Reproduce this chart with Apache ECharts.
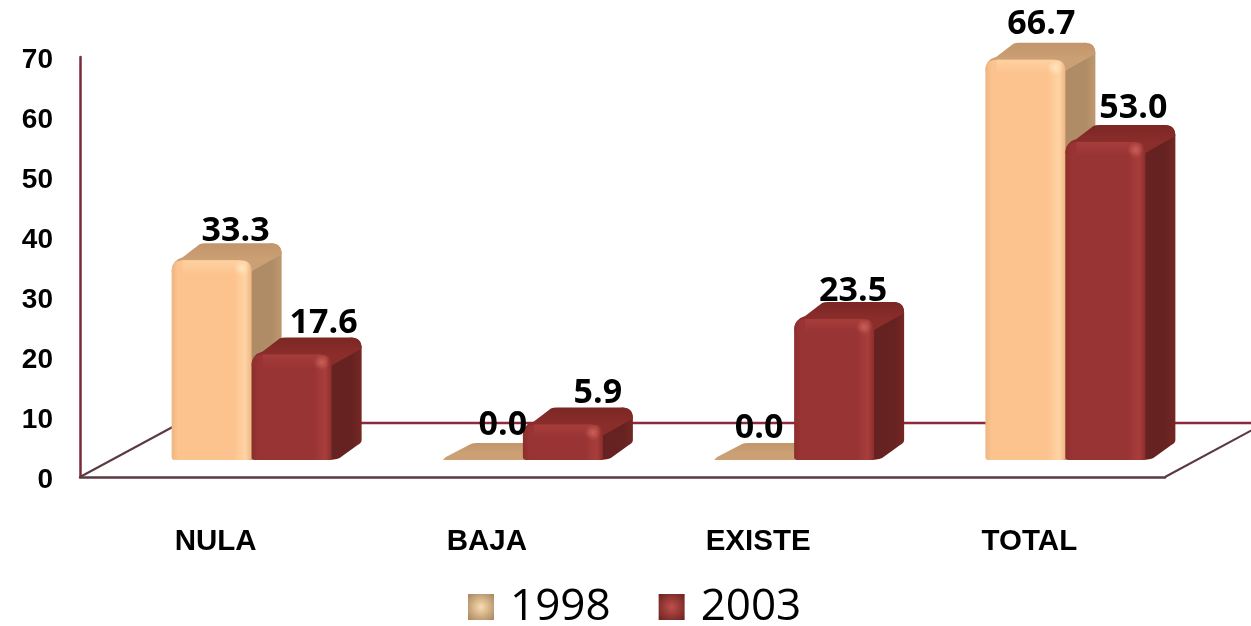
<!DOCTYPE html>
<html>
<head>
<meta charset="utf-8">
<style>html,body{margin:0;padding:0;background:#fff}#c{width:1251px;height:626px}</style>
<script src="https://cdn.jsdelivr.net/npm/echarts@6/dist/echarts.min.js"></script>
</head>
<body>
<div id="c"></div>
<script>
const categories = ['NULA', 'BAJA', 'EXISTE', 'TOTAL'];
const yearNames = ['1998', '2003'];
const values1998 = [33.3, 0.0, 0.0, 66.7];
const values2003 = [17.6, 5.9, 23.5, 53.0];
const yTicks = { min: 0, max: 70, interval: 10 };

// presentation only: hand-placed label nudges, in px, from each bar's front centre
const labelDx1998 = [24, 20, 5, 16];
const labelDx2003 = [32, 35, 19, 28];
const labelDy1998 = [6, 0, 3, 0];
const labelDy2003 = [4, 4, 7, 1];

const DEPTH_X = 30, DEPTH_Y = 17, BAR_W = 80, SHIFT_X = 36;

const palette = {
  '1998': { front: '#FCC38E', light: '#FFD3A4', edge: '#EDB682', spot: '#FFE6BE', top: '#C2966A', topLight: '#CBA074', side: '#B08C66', sideEdge: '#BD976F' },
  '2003': { front: '#983433', light: '#A83E3C', edge: '#8C2E2D', spot: '#CC5F58', top: '#7C2725', topLight: '#8A2D2B', side: '#662220', sideEdge: '#752725' }
};

function grad(horizontal, stops) {
  return { type: 'linear', x: 0, y: 0, x2: horizontal ? 1 : 0, y2: horizontal ? 0 : 1,
    colorStops: stops.map(s => ({ offset: s[0], color: s[1] })) };
}

function barRenderer(year, side) {
  const c = palette[year];
  return function (params, api) {
    const cat = api.value(0), val = api.value(1);
    const top = api.coord([cat, val]);
    const base = api.coord([cat, 0]);
    const x0 = top[0] + SHIFT_X + (side === 0 ? -BAR_W : 0);
    const x1 = x0 + BAR_W;
    const yt = top[1] - DEPTH_Y, yb = base[1] - DEPTH_Y;
    const h = yb - yt;
    const r = Math.min(11, h / 2);
    const d = DEPTH_X, e = DEPTH_Y;
    const ch = [];
    if (h > 0.5) {
      ch.push({ type: 'path', z2: 1, shape: { pathData:
        `M${x1 - 4} ${yt} L${x1 + d - r} ${yt - e} Q${x1 + d} ${yt - e} ${x1 + d} ${yt - e + r}` +
        ` L${x1 + d} ${yb - e - 3} Q${x1 + d} ${yb - e} ${x1 + d - 4} ${yb - e + 2} L${x1 + 8} ${yb - 2} Q${x1 + 3} ${yb} ${x1 - 6} ${yb} Z` },
        style: { fill: grad(true, [[0, c.side], [0.72, c.side], [1, c.sideEdge]]) } });
    }
    const rt = Math.max(r, 3);
    ch.push({ type: 'path', z2: 2, shape: { pathData:
      `M${x0} ${yt + r} Q${x0} ${yt} ${x0 + rt} ${yt - 3} L${x0 + d - 2} ${yt - e + 1} Q${x0 + d} ${yt - e} ${x0 + d + 4} ${yt - e}` +
      ` L${x1 + d - rt} ${yt - e} Q${x1 + d} ${yt - e} ${x1 + d} ${yt - e + rt} L${x1} ${yt + r} Z` },
      style: { fill: grad(false, [[0, c.top], [0.6, c.topLight], [1, c.topLight]]) } });
    if (h > 0.5) {
      ch.push({ type: 'path', z2: 3, shape: { pathData:
        `M${x0 + 3} ${yb} Q${x0} ${yb} ${x0} ${yb - 3} L${x0} ${yt + r} Q${x0} ${yt} ${x0 + r} ${yt}` +
        ` L${x1 - r} ${yt} Q${x1} ${yt} ${x1} ${yt + r} L${x1} ${yb - 3} Q${x1} ${yb} ${x1 - 3} ${yb} Z` },
        style: { fill: grad(true, [[0, c.edge], [0.08, c.front], [0.78, c.front], [0.92, c.light], [1, c.edge]]) } });
      const bevel = Math.min(14, h * 0.45);
      ch.push({ type: 'rect', z2: 4, shape: { x: x0 + r, y: yt, width: BAR_W - 2 * r, height: bevel },
        style: { fill: grad(false, [[0, c.light], [1, c.front]]), opacity: 0.85 } });
      ch.push({ type: 'circle', z2: 5, shape: { cx: x1 - 10, cy: yt + 8, r: 8 },
        style: { fill: { type: 'radial', x: 0.5, y: 0.5, r: 0.5,
          colorStops: [{ offset: 0, color: c.spot }, { offset: 1, color: c.spot + '00' }] } } });
    }
    return { type: 'group', children: ch };
  };
}

function labelRenderer(params, api) {
  const cat = api.value(0), val = api.value(1), side = api.value(2);
  const pt = api.coord([cat, val]);
  const cx = pt[0] + SHIFT_X + (side === 0 ? -BAR_W / 2 : BAR_W / 2);
  const dx = (side === 0 ? labelDx1998 : labelDx2003)[cat];
  const dy = (side === 0 ? labelDy1998 : labelDy2003)[cat];
  return { type: 'text', z2: 10, style: {
    x: cx + dx, y: pt[1] - DEPTH_Y - DEPTH_Y - 1 + dy,
    text: val.toFixed(1), align: 'center', verticalAlign: 'bottom',
    font: 'bold 34px "Open Sans", sans-serif', fill: '#000', lineHeight: 34 } };
}

function floorRenderer(params, api) {
  const cs = params.coordSys;
  const bottom = cs.y + cs.height, right = cs.x + cs.width;
  const line = (x1, y1, x2, y2, color, w) => ({ type: 'line', shape: { x1, y1, x2, y2 },
    style: { stroke: color, lineWidth: w } });
  const backY = bottom - 54;
  return { type: 'group', children: [
    line(cs.x, bottom, cs.x + 100, backY, '#5A3A40', 2),
    line(right, bottom, right + 100, backY, '#5A3A40', 2),
    line(cs.x + 100, backY, right + 100, backY, '#8A2A3A', 2.5)
  ] };
}

const labelData = [];
values1998.forEach((v, i) => labelData.push([i, v, 0]));
values2003.forEach((v, i) => labelData.push([i, v, 1]));

const chart = echarts.init(document.getElementById('c'), null, { renderer: 'canvas' });
chart.setOption({
  animation: false,
  backgroundColor: '#fff',
  grid: { left: 80, right: 86, top: 57, bottom: 149, containLabel: false },
  legend: {
    left: 463, top: 580, itemWidth: 26, itemHeight: 26, itemGap: 48, selectedMode: false,
    textStyle: { fontFamily: '"Open Sans", sans-serif', fontSize: 44, color: '#000', padding: [0, 0, 0, 11] },
    data: [
      { name: yearNames[0], icon: 'rect', itemStyle: { color: { type: 'radial', x: .5, y: .5, r: .7,
        colorStops: [{ offset: 0, color: '#F8DCAE' }, { offset: 1, color: '#A9835E' }] } } },
      { name: yearNames[1], icon: 'rect', itemStyle: { color: { type: 'radial', x: .5, y: .5, r: .7,
        colorStops: [{ offset: 0, color: '#BE4F4B' }, { offset: 1, color: '#6A2221' }] } } }
    ]
  },
  xAxis: {
    type: 'category', data: categories, boundaryGap: true,
    axisLine: { show: true, lineStyle: { color: '#5A3A40', width: 2.5 } },
    axisTick: { show: false },
    axisLabel: { margin: 50, fontFamily: 'Liberation Sans', fontWeight: 'bold', fontSize: 29.5, color: '#000' },
    splitLine: { show: false }
  },
  yAxis: {
    type: 'value', min: yTicks.min, max: yTicks.max, interval: yTicks.interval,
    axisLine: { show: true, lineStyle: { color: '#7A2A38', width: 2.5 } },
    axisTick: { show: false },
    axisLabel: {
      margin: 27,
      formatter: v => '{t|' + v + '}',
      rich: { t: { fontFamily: 'Liberation Sans', fontWeight: 'bold', fontSize: 28, color: '#000', lineHeight: 34, verticalAlign: 'bottom' } }
    },
    splitLine: { show: false }
  },
  series: [
    { name: 'floor', type: 'custom', z: 1, silent: true, clip: false, renderItem: floorRenderer, data: [[0, 0]] },
    { name: yearNames[0], type: 'custom', z: 2, silent: true, renderItem: barRenderer('1998', 0),
      encode: { x: 0, y: 1 }, data: values1998.map((v, i) => [i, v]), itemStyle: { color: '#FCC38E' } },
    { name: yearNames[1], type: 'custom', z: 3, silent: true, renderItem: barRenderer('2003', 1),
      encode: { x: 0, y: 1 }, data: values2003.map((v, i) => [i, v]), itemStyle: { color: '#983433' } },
    { name: 'labels', type: 'custom', z: 5, silent: true, renderItem: labelRenderer,
      encode: { x: 0, y: 1 }, data: labelData }
  ]
});
</script>
</body>
</html>
